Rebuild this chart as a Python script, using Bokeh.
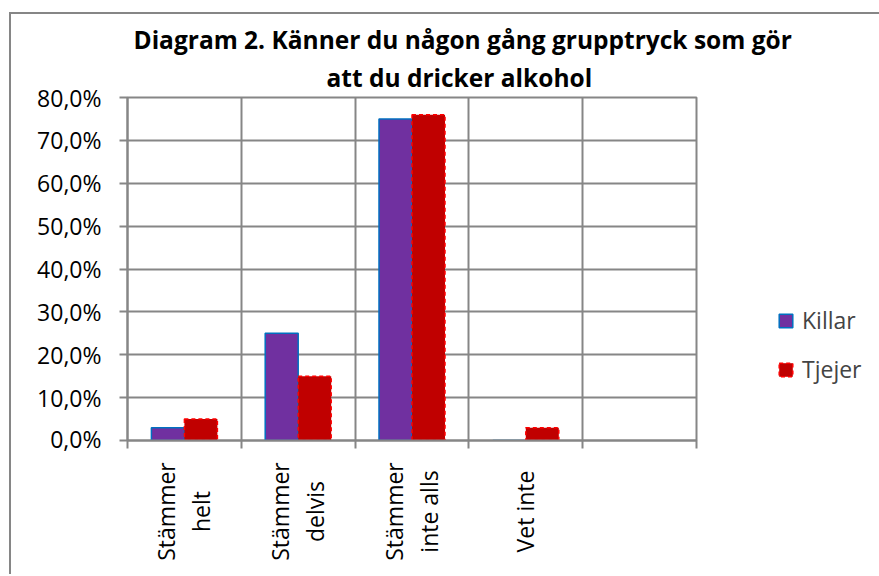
import math
from bokeh.plotting import figure
from bokeh.layouts import column
from bokeh.models import FixedTicker, Legend, LegendItem, Title, ColumnDataSource, Range1d
from bokeh.core.properties import value
from bokeh.embed import file_html
from bokeh.resources import INLINE

# ---- data ----
categories = ["Stämmer\nhelt", "Stämmer\ndelvis", "Stämmer\ninte alls", "Vet inte", ""]
killar = [3.0, 25.0, 75.0, 0.0]
tjejer = [5.0, 15.0, 76.0, 3.0]
y_ticks = [0, 10, 20, 30, 40, 50, 60, 70, 80]
y_tick_labels = ["0,0%", "10,0%", "20,0%", "30,0%", "40,0%", "50,0%", "60,0%", "70,0%", "80,0%"]
series_names = ["Killar", "Tjejer"]
title_lines = ["Diagram 2.  Känner du någon gång grupptryck som gör", "att du dricker alkohol"]

GRID = "#868686"
FONT = "Open Sans"
BAR_W = 0.29
LEFT, RIGHT, FW = 116, 178, 569

n = len(categories)
centers = [i + 0.5 for i in range(n)]
src_k = ColumnDataSource(dict(x=[centers[i] - BAR_W / 2 for i in range(len(killar))], top=killar))
src_t = ColumnDataSource(dict(x=[centers[i] + BAR_W / 2 for i in range(len(tjejer))], top=tjejer))

p = figure(width=LEFT + FW + RIGHT, height=440, x_range=(0, n), y_range=(0, 80),
           output_backend="svg", toolbar_location=None,
           frame_width=FW, frame_height=343)
p.min_border_left = LEFT
p.min_border_right = RIGHT
p.min_border_top = 83
p.min_border_bottom = 14
p.outline_line_color = GRID
p.outline_line_width = 2
p.background_fill_color = "white"
p.border_fill_color = "white"

rk = p.vbar(x="x", top="top", bottom=0, width=BAR_W, source=src_k,
            fill_color="#7030A0", line_color="#0070C0", line_width=1.5)
rt = p.vbar(x="x", top="top", bottom=0, width=BAR_W, source=src_t,
            fill_color="#C00000", line_color="#FF0000", line_width=1.5, line_dash="4 3")

# title: two lines, bottom line added first (closest to the frame)
title_offsets = [6, 199]
title_standoffs = [0, 7]
for i in (1, 0):
    p.add_layout(Title(text=title_lines[i], align="left", offset=title_offsets[i],
                       text_font=FONT, text_font_style="bold", text_font_size="24.5px",
                       text_color="black", standoff=title_standoffs[i]), "above")

# y axis
p.yaxis.ticker = FixedTicker(ticks=y_ticks)
p.yaxis.major_label_overrides = {t: l for t, l in zip(y_ticks, y_tick_labels)}
p.yaxis.major_label_text_font = FONT
p.yaxis.major_label_text_font_size = "23px"
p.yaxis.major_label_text_color = "black"
p.yaxis.axis_line_color = GRID
p.yaxis.axis_line_width = 2
p.yaxis.major_tick_line_color = GRID
p.yaxis.major_tick_line_width = 2
p.yaxis.major_tick_out = 8
p.yaxis.major_tick_in = 0
p.yaxis.minor_tick_line_color = None
p.yaxis.major_label_standoff = 18

# x axis: ticks at category boundaries only
p.xaxis.ticker = FixedTicker(ticks=[], minor_ticks=list(range(n + 1)))
p.xaxis.axis_line_color = GRID
p.xaxis.axis_line_width = 2
p.xaxis.major_tick_line_color = None
p.xaxis.major_tick_out = 0
p.xaxis.major_tick_in = 0
p.xaxis.minor_tick_line_color = GRID
p.xaxis.minor_tick_line_width = 2
p.xaxis.minor_tick_out = 8
p.xaxis.minor_tick_in = 0
p.xaxis.major_label_standoff = 0

# grids
p.ygrid.grid_line_color = GRID
p.ygrid.grid_line_width = 2
p.xgrid.grid_line_color = None
p.xgrid.minor_grid_line_color = GRID
p.xgrid.minor_grid_line_width = 2

legend = Legend(items=[LegendItem(label=series_names[0], renderers=[rk]),
                       LegendItem(label=series_names[1], renderers=[rt])],
                location=(81, 55), orientation="vertical")
legend.label_text_font = FONT
legend.label_text_font_size = "23px"
legend.glyph_width = 17
legend.glyph_height = 17
legend.label_height = 20
legend.spacing = 17
legend.padding = 0
legend.margin = 0
legend.border_line_color = None
legend.background_fill_alpha = 0
legend.label_standoff = 8
p.add_layout(legend, "right")

# category labels strip, sharing the x scale of the chart; each label line
# is a separate centred, rotated text so the lines are centred on each other
Q_H = 120
q = figure(width=LEFT + FW + RIGHT, height=Q_H, x_range=p.x_range, y_range=Range1d(0, Q_H),
           output_backend="svg", toolbar_location=None, frame_width=FW, frame_height=Q_H,
           x_axis_location=None, y_axis_location=None)
q.min_border_left = LEFT
q.min_border_right = RIGHT
q.min_border_top = 0
q.min_border_bottom = 0
q.outline_line_color = None
q.grid.visible = False
q.border_fill_color = "white"
q.background_fill_color = "white"

px = n / FW            # data units per pixel
LINE_PITCH = 35 * px   # distance between the two label lines
SHIFT = -1 * px
lx, ly, lt = [], [], []
for c, lab in zip(centers, categories):
    if not lab:
        continue
    parts = lab.split("\n")
    k = len(parts)
    for j, part in enumerate(parts):
        lx.append(c + SHIFT + (j - (k - 1) / 2) * LINE_PITCH)
        ly.append(Q_H - 57)
        lt.append(part)
lab_src = ColumnDataSource(dict(x=lx, y=ly, text=lt))
q.text(x="x", y="y", text="text", source=lab_src, angle=math.pi / 2,
       text_align="center", text_baseline="middle", text_font=value(FONT),
       text_font_size="23px", text_color="black")

lay = column(p, q, spacing=0)
lay.styles = {"margin-left": "9px", "margin-top": "12px",
              "border-left": f"2px solid {GRID}", "border-top": f"2px solid {GRID}"}

open("out.html", "w").write(file_html(lay, INLINE))
